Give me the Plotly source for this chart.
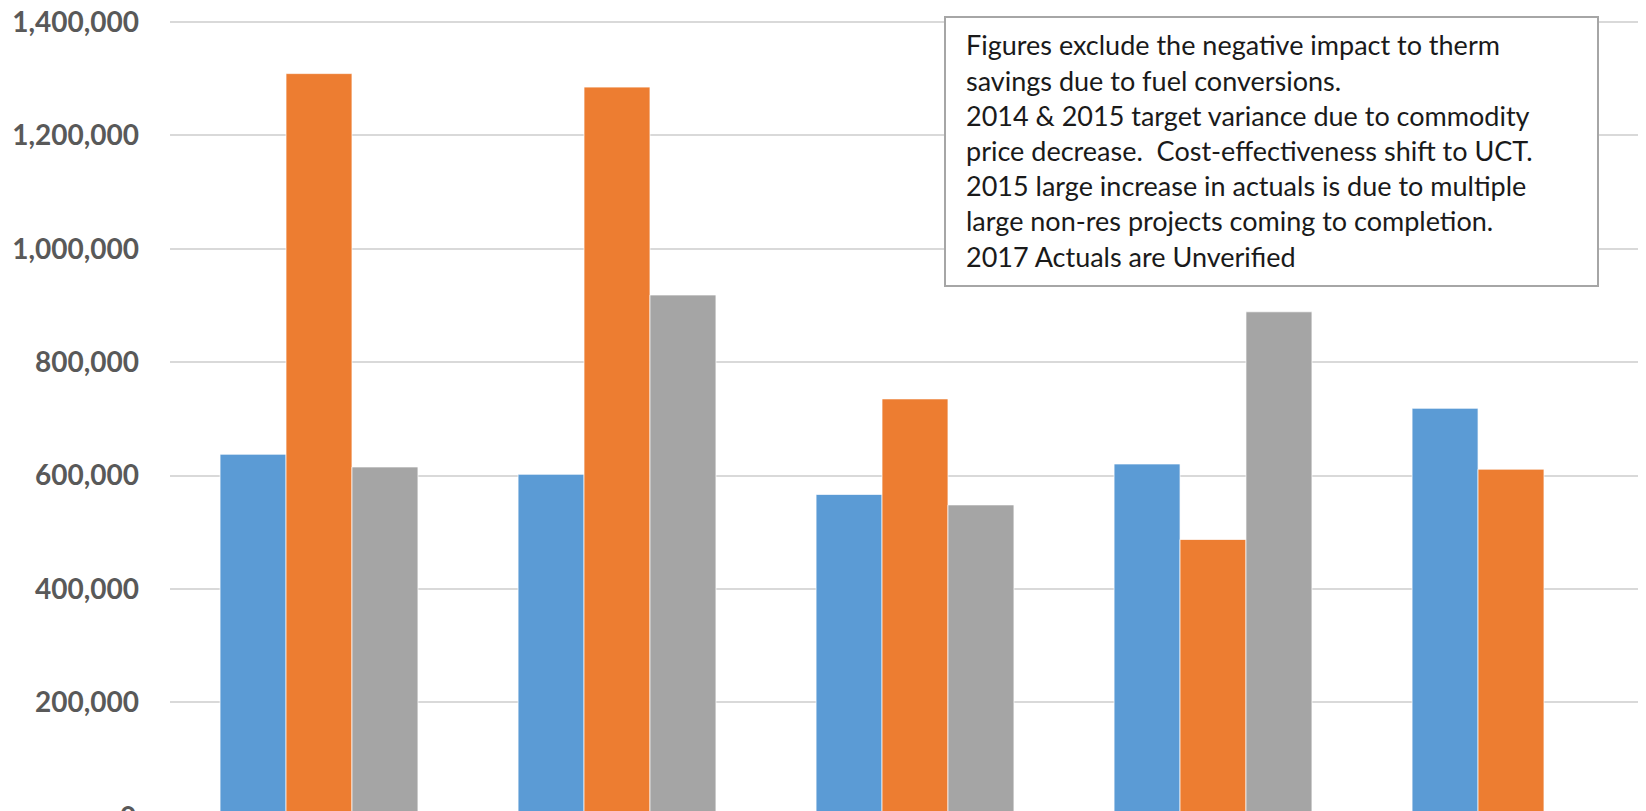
import plotly.graph_objects as go

categories = ["2013", "2014", "2015", "2016", "2017"]
series_names = ["Series 1", "Series 2", "Series 3"]
blue_vals = [637600, 602300, 566800, 620500, 718700]
orange_vals = [1309000, 1285200, 735300, 487300, 611300]
gray_vals = [615200, 918500, 548300, 888900, None]
colors = ["#5B9BD5", "#ED7D31", "#A5A5A5"]
tick_vals = [200000, 400000, 600000, 800000, 1000000, 1200000, 1400000]
tick_text = ["200,000", "400,000", "600,000", "800,000", "1,000,000", "1,200,000", "1,400,000"]
note_lines = [
    "Figures exclude the negative impact to therm",
    "savings due to fuel conversions.",
    "2014 & 2015 target variance due to commodity",
    "price decrease.  Cost-effectiveness shift to UCT.",
    "2015 large increase in actuals is due to multiple",
    "large non-res projects coming to completion.",
    "2017 Actuals are Unverified",
]

# The page body has an 8px margin; size the figure to fit inside the window.
OFF = 8
W, H = 1646 - OFF, 811 - OFF
L = 170 - OFF
PW = W - L


def px(page_x):
    return (page_x - OFF - L) / PW


def py(page_y):
    return 1 - (page_y - OFF) / H


fig = go.Figure()
for name, vals, col in zip(series_names, [blue_vals, orange_vals, gray_vals], colors):
    fig.add_trace(go.Bar(
        x=categories, y=vals, name=name,
        marker=dict(color=col, line=dict(color="rgba(255,255,255,0.7)", width=1)),
    ))

fig.update_layout(
    width=W, height=H,
    margin=dict(l=L, r=0, t=0, b=0),
    paper_bgcolor="white", plot_bgcolor="white",
    barmode="group", bargap=0.336, bargroupgap=0,
    showlegend=False,
    xaxis=dict(type="category", range=[-0.5, 4.453], showticklabels=False,
               showgrid=False, zeroline=False, showline=False, ticks=""),
    yaxis=dict(range=[8466, 1424700], tickvals=tick_vals, ticktext=tick_text,
               tickfont=dict(family="Lato", size=28, color="#595959", weight="bold"),
               showgrid=True, gridcolor="#D9D9D9", gridwidth=1.5,
               zeroline=False, showline=False, ticks="", ticklabelstandoff=30,
               ticklabeloverflow="allow", automargin=False),
)

fig.add_annotation(
    text="0", xref="paper", yref="paper",
    x=px(138), y=py(815.8),
    xanchor="right", yanchor="middle", showarrow=False,
    font=dict(family="Lato", size=28, color="#595959", weight="bold"),
)

# note box
fig.add_shape(
    type="rect", xref="paper", yref="paper",
    x0=px(945), x1=px(1598), y0=py(286), y1=py(17),
    line=dict(color="#A6A6A6", width=2), fillcolor="white", layer="above",
)
for i, line in enumerate(note_lines):
    fig.add_annotation(
        text=line, xref="paper", yref="paper",
        x=px(964), y=py(45 + 35.17 * i), xanchor="left", yanchor="middle",
        showarrow=False, align="left",
        font=dict(family="Lato", size=27, color="#1a1a1a"),
    )

fig.write_html("out.html")
